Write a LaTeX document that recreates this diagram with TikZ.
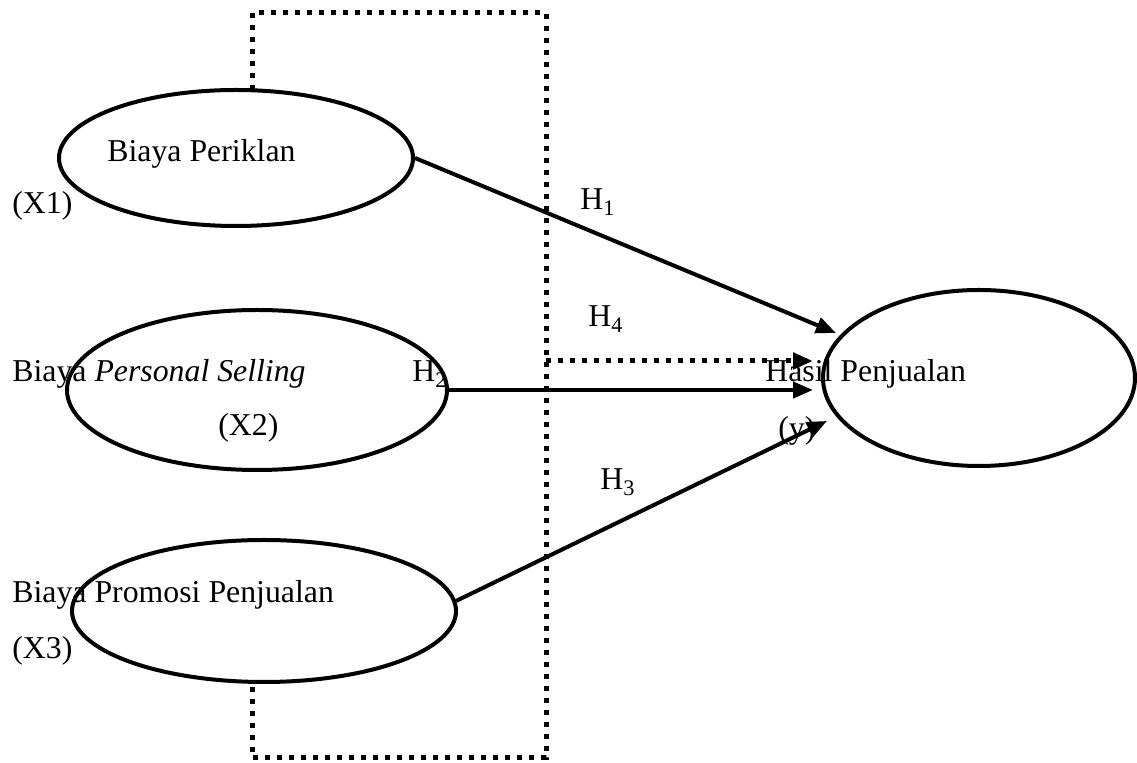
\documentclass[tikz,border=0pt]{standalone}
\usepackage{fontspec}
\setmainfont{Liberation Serif}
\usetikzlibrary{arrows.meta}
\usetikzlibrary{shapes.geometric}

\begin{document}
\begin{tikzpicture}[x=0.5pt,y=-0.5pt,
  >={Triangle[length=10pt,width=8pt]},
  var/.style={draw,ellipse,line width=2pt,inner sep=0pt},
  lbl/.style={anchor=base west,inner sep=0pt,font=\fontsize{15.9}{19}\selectfont},
  hyp/.style={->,line width=2pt},
  frame/.style={line width=2.5pt,dash pattern=on 2.5pt off 3.5pt}]
  \useasboundingbox (0,0) rectangle (1137,763);

  \node[var,minimum width=177pt,minimum height=68pt] (iklan) at (236,158) {};
  \node[var,minimum width=190pt,minimum height=80pt] (pers) at (257,390) {};
  \node[var,minimum width=192pt,minimum height=71pt] (promo) at (264,611) {};
  \node[var,minimum width=156pt,minimum height=88pt] (hasil) at (979,378) {};

  \coordinate (f1) at (252,90);
  \coordinate (f2) at (252,13);
  \coordinate (f3) at (546,13);
  \coordinate (f4) at (546,758);
  \coordinate (f5) at (252,758);
  \coordinate (f6) at (252,682);
  \coordinate (f7) at (546,361);
  \draw[frame] (f1) -- (f2) -- (f3) -- (f4) -- (f5) -- (f6);

  \coordinate (t1) at (836,333);
  \coordinate (t2) at (813,390);
  \coordinate (t3) at (827,421);
  \coordinate (t4) at (813,361);
  \draw[hyp] (iklan.east) -- (t1);
  \draw[hyp] (pers.east) -- (t2);
  \draw[hyp] (promo.3) -- (t3);
  \draw[frame,->] (f7) -- (t4);

  \node[lbl] (tiklan) at (107,162) {Biaya Periklan};
  \node[lbl] (tx1) at (12,214) {(X1)};
  \node[lbl] (tpers) at (12,382) {Biaya \textit{Personal Selling}};
  \node[lbl] (th2) at (412,382) {H\textsubscript{2}};
  \node[lbl] (tx2) at (218,436) {(X2)};
  \node[lbl] (tpromo) at (12,603) {Biaya Promosi Penjualan};
  \node[lbl] (tx3) at (12,659) {(X3)};
  \node[lbl] (thasil) at (765,382) {Hasil Penjualan};
  \node[lbl] (ty) at (778,439) {(y)};
  \node[lbl] (th1) at (580,210) {H\textsubscript{1}};
  \node[lbl] (th4) at (588,327) {H\textsubscript{4}};
  \node[lbl] (th3) at (600,490) {H\textsubscript{3}};
\end{tikzpicture}
\end{document}
